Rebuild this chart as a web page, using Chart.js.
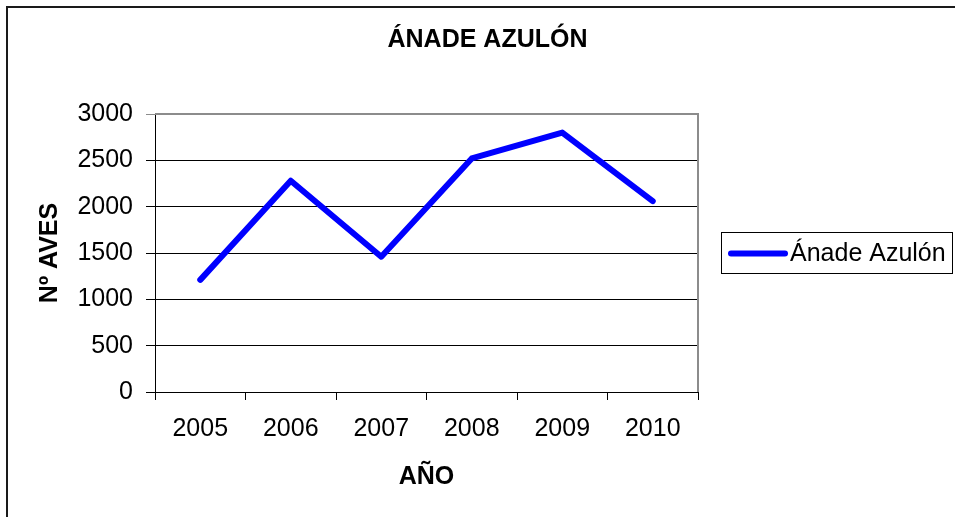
<!DOCTYPE html>
<html>
<head>
<meta charset="utf-8">
<script src="https://cdn.jsdelivr.net/npm/chart.js@4"></script>
<style>
  html, body { margin: 0; padding: 0; background: #fff; overflow: hidden; }
  .wrap { position: relative; width: 975px; height: 517px; }
</style>
</head>
<body>
<div class="wrap"><canvas id="chart" width="975" height="517"></canvas></div>
<script>
const years = ["2005", "2006", "2007", "2008", "2009", "2010"];
const birds = [1210, 2280, 1460, 2520, 2800, 2060];
const yMin = 0;
const yMax = 3000;
const yStep = 500;

const font = "'Liberation Sans', Arial, sans-serif";

// plot frame, outer border and the boxed legend (Excel look)
const excelBits = {
  id: "excelBits",
  beforeDraw(chart) {
    const ctx = chart.ctx;
    ctx.save();
    ctx.fillStyle = "#1a1a1a";
    ctx.fillRect(6, 6, 2, chart.height);
    ctx.fillRect(6, 6, chart.width, 2);
    ctx.restore();
  },
  beforeDatasetsDraw(chart) {
    const { ctx, chartArea: a } = chart;
    ctx.save();
    ctx.strokeStyle = "#8c8c8c";
    ctx.lineWidth = 2;
    ctx.beginPath();
    ctx.moveTo(a.left, a.top);
    ctx.lineTo(a.right, a.top);
    ctx.lineTo(a.right, a.bottom);
    ctx.stroke();
    ctx.restore();
  },
  afterDraw(chart) {
    const ctx = chart.ctx;
    const ds = chart.data.datasets[0];
    ctx.save();
    ctx.strokeStyle = "#000";
    ctx.lineWidth = 1;
    ctx.strokeRect(721.5, 232.5, 231, 41);
    ctx.strokeStyle = ds.borderColor;
    ctx.lineWidth = 6;
    ctx.lineCap = "round";
    ctx.beginPath();
    ctx.moveTo(731, 253.5);
    ctx.lineTo(785, 253.5);
    ctx.stroke();
    ctx.fillStyle = "#000";
    ctx.font = "25px " + font;
    ctx.textBaseline = "middle";
    ctx.fillText(ds.label, 790, 254);
    ctx.restore();
  },
};

new Chart(document.getElementById("chart"), {
  type: "line",
  data: {
    labels: years,
    datasets: [
      {
        label: "Ánade Azulón",
        data: birds,
        borderColor: "#0000ff",
        borderWidth: 6,
        borderCapStyle: "round",
        borderJoinStyle: "round",
        pointRadius: 0,
        tension: 0,
      },
    ],
  },
  options: {
    responsive: false,
    animation: false,
    layout: { padding: 0 },
    plugins: {
      legend: { display: false },
      tooltip: { enabled: false },
      title: {
        display: true,
        text: "ÁNADE AZULÓN",
        color: "#000",
        font: { family: font, size: 25, weight: "bold" },
        padding: { top: 25, bottom: 59 },
      },
    },
    scales: {
      x: {
        offset: true,
        grid: { display: true, drawOnChartArea: false, offset: true, tickLength: 8, color: "#000" },
        border: { display: true, color: "#000", width: 1 },
        ticks: { color: "#000", padding: 14, font: { family: font, size: 25 } },
        title: {
          display: true,
          text: "AÑO",
          color: "#000",
          font: { family: font, size: 25, weight: "bold" },
          padding: { top: 0, bottom: 25 },
        },
        afterFit(s) { s.height = 125; },
      },
      y: {
        min: yMin,
        max: yMax,
        ticks: {
          stepSize: yStep,
          format: { useGrouping: false },
          color: "#000",
          padding: 13,
          font: { family: font, size: 25 },
        },
        grid: {
          color: (c) => (c.tick && c.tick.value === yMax ? "#8c8c8c" : "#000"),
          tickLength: 9,
        },
        border: { display: true, color: "#000", width: 1 },
        title: {
          display: true,
          text: "Nº AVES",
          color: "#000",
          font: { family: font, size: 25, weight: "bold" },
          padding: { top: 35, bottom: 0 },
        },
        afterFit(s) { s.width = 155; },
      },
      // empty right axis only to reserve the legend strip
      pad: {
        position: "right",
        display: true,
        grid: { display: false },
        border: { display: false },
        ticks: { display: false },
        afterFit(s) { s.width = 975 - 698; },
      },
    },
  },
  plugins: [excelBits],
});
</script>
</body>
</html>
